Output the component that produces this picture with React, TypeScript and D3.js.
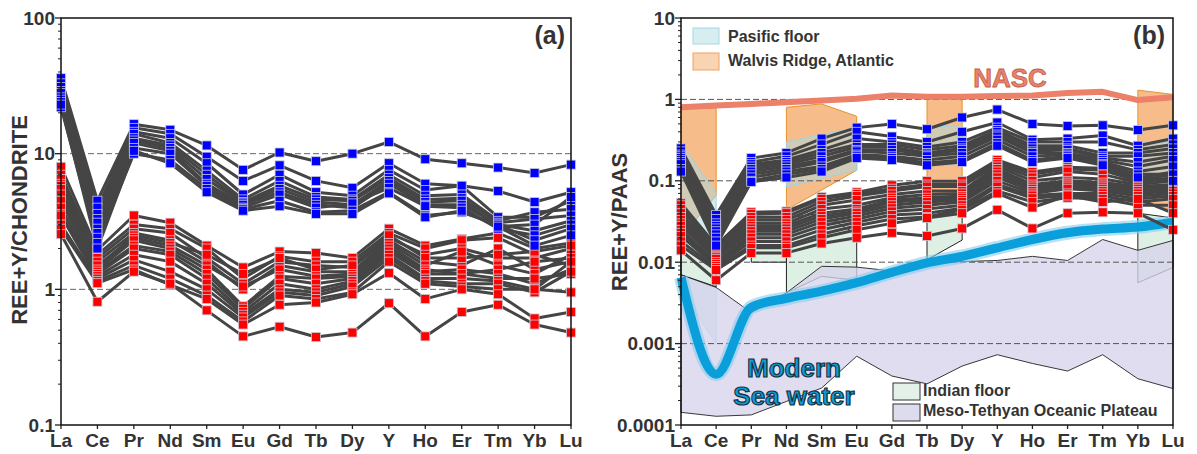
import React from "react";
import * as d3 from "d3";

const elements = ["La", "Ce", "Pr", "Nd", "Sm", "Eu", "Gd", "Tb", "Dy", "Y", "Ho", "Er", "Tm", "Yb", "Lu"];

// Panel (a): chondrite-normalised
const chondriteBlue: number[][] = [
  [36, 4.5, 16.5, 15, 11.5, 7.6, 10.2, 8.8, 10, 12.2, 9.1, 8.5, 7.9, 7.2, 8.3],
  [33, 4.0, 15.5, 14, 9.5, 6.3, 8.2, 6.3, 5.6, 8.5, 6.0, 5.8, 5.3, 4.4, 5.2],
  [31, 3.6, 14.5, 13, 8.5, 5.0, 7.0, 5.2, 4.9, 7.6, 5.4, 5.8, 3.4, 3.4, 4.5],
  [29, 3.3, 14, 12, 7.5, 4.6, 6.3, 4.8, 4.6, 7.0, 4.9, 5.0, 3.2, 3.7, 3.9],
  [28, 3.1, 13, 11.5, 7.0, 4.4, 5.8, 4.6, 4.5, 6.6, 4.6, 4.7, 3.1, 3.3, 3.5],
  [26, 2.8, 12.5, 11, 6.5, 4.3, 5.5, 4.4, 4.2, 6.3, 4.4, 4.5, 2.9, 3.0, 4.8],
  [25, 2.6, 12, 10.5, 6.0, 4.2, 5.2, 4.2, 4.0, 6.0, 4.2, 4.2, 3.0, 2.7, 3.2],
  [24, 2.4, 11, 10, 5.8, 4.0, 5.0, 4.0, 4.3, 5.6, 4.1, 4.0, 2.8, 2.5, 3.0],
  [22, 2.2, 10, 9, 5.5, 3.9, 4.5, 3.7, 3.8, 5.2, 3.5, 3.7, 3.0, 2.3, 2.8],
  [23, 2.0, 10.5, 8.5, 5.2, 3.8, 4.1, 3.6, 3.6, 5.1, 3.4, 3.8, 2.9, 2.1, 2.5],
];
const chondriteRed: number[][] = [
  [8.0, 1.95, 3.5, 3.1, 2.1, 1.45, 1.9, 1.85, 1.7, 2.8, 2.1, 2.35, 2.6, 2.0, 2.2],
  [7.0, 1.8, 3.0, 2.8, 2.0, 1.2, 1.75, 1.6, 1.6, 2.6, 2.0, 2.3, 2.4, 1.8, 1.5],
  [6.5, 1.7, 2.8, 2.6, 1.7, 1.1, 1.6, 1.5, 1.45, 2.4, 1.8, 2.0, 1.7, 1.7, 2.0],
  [6.0, 1.6, 2.6, 2.3, 1.6, 1.0, 1.5, 1.35, 1.35, 2.3, 1.6, 1.5, 2.0, 1.4, 1.6],
  [5.8, 1.45, 2.5, 2.2, 1.8, 1.3, 1.7, 1.4, 1.5, 2.5, 1.7, 1.7, 1.8, 1.9, 2.1],
  [5.5, 1.5, 2.4, 2.1, 1.5, 1.05, 1.4, 1.25, 1.3, 2.2, 1.5, 1.9, 1.5, 1.3, 1.8],
  [5.0, 1.4, 2.3, 2.0, 1.4, 0.75, 1.25, 1.2, 1.25, 2.1, 1.4, 1.3, 1.4, 1.6, 1.7],
  [4.5, 1.35, 2.1, 1.9, 1.3, 0.72, 1.2, 1.1, 1.2, 2.0, 1.35, 1.4, 1.3, 1.1, 1.4],
  [4.0, 1.3, 2.0, 1.8, 1.2, 0.68, 1.1, 1.0, 1.15, 1.9, 1.3, 1.3, 1.2, 1.2, 1.3],
  [3.6, 1.25, 1.8, 1.6, 1.1, 0.65, 1.0, 0.95, 1.1, 1.8, 1.2, 1.2, 1.15, 1.0, 1.6],
  [3.5, 1.2, 1.65, 1.35, 1.0, 0.62, 0.95, 0.9, 1.05, 1.7, 1.15, 1.1, 1.1, 0.95, 1.35],
  [3.0, 1.15, 1.5, 1.2, 0.9, 0.58, 0.9, 0.85, 0.95, 1.6, 1.1, 1.05, 1.0, 1.0, 0.95],
  [2.8, 1.11, 1.4, 1.08, 0.85, 0.55, 0.77, 0.8, 0.92, 1.32, 0.85, 1.0, 0.92, 0.61, 0.68],
  [2.55, 0.81, 1.35, 1.1, 0.7, 0.45, 0.53, 0.445, 0.48, 0.79, 0.45, 0.68, 0.77, 0.55, 0.48],
];

// Panel (b): PAAS-normalised
const paasBlue: number[][] = [
  [0.25, 0.038, 0.19, 0.22, 0.33, 0.45, 0.5, 0.43, 0.6, 0.75, 0.5, 0.47, 0.48, 0.42, 0.48],
  [0.23, 0.034, 0.17, 0.2, 0.28, 0.4, 0.35, 0.3, 0.4, 0.52, 0.32, 0.33, 0.36, 0.27, 0.33],
  [0.21, 0.03, 0.16, 0.18, 0.24, 0.33, 0.3, 0.26, 0.3, 0.45, 0.3, 0.3, 0.3, 0.24, 0.28],
  [0.2, 0.028, 0.15, 0.17, 0.22, 0.28, 0.28, 0.24, 0.27, 0.42, 0.27, 0.27, 0.22, 0.22, 0.25],
  [0.19, 0.026, 0.14, 0.16, 0.2, 0.26, 0.26, 0.22, 0.25, 0.4, 0.25, 0.25, 0.2, 0.2, 0.22],
  [0.18, 0.024, 0.13, 0.15, 0.18, 0.24, 0.24, 0.21, 0.24, 0.37, 0.23, 0.24, 0.19, 0.17, 0.2],
  [0.17, 0.022, 0.12, 0.14, 0.17, 0.23, 0.22, 0.2, 0.22, 0.35, 0.22, 0.22, 0.18, 0.15, 0.18],
  [0.16, 0.02, 0.11, 0.13, 0.15, 0.21, 0.2, 0.18, 0.2, 0.32, 0.2, 0.21, 0.17, 0.13, 0.15],
  [0.14, 0.018, 0.1, 0.12, 0.14, 0.2, 0.19, 0.165, 0.18, 0.29, 0.18, 0.2, 0.16, 0.12, 0.12],
  [0.13, 0.016, 0.097, 0.11, 0.13, 0.19, 0.18, 0.155, 0.17, 0.27, 0.17, 0.19, 0.155, 0.11, 0.1],
];
const paasRed: number[][] = [
  [0.053, 0.016, 0.041, 0.042, 0.063, 0.072, 0.088, 0.099, 0.099, 0.18, 0.128, 0.147, 0.143, 0.108, 0.128],
  [0.05, 0.0155, 0.039, 0.04, 0.06, 0.069, 0.08, 0.09, 0.09, 0.17, 0.12, 0.14, 0.135, 0.1, 0.12],
  [0.045, 0.015, 0.036, 0.036, 0.055, 0.065, 0.075, 0.085, 0.085, 0.16, 0.11, 0.13, 0.12, 0.095, 0.11],
  [0.04, 0.014, 0.033, 0.033, 0.05, 0.058, 0.068, 0.075, 0.075, 0.15, 0.1, 0.11, 0.105, 0.09, 0.1],
  [0.036, 0.013, 0.03, 0.03, 0.045, 0.05, 0.062, 0.068, 0.07, 0.14, 0.09, 0.1, 0.095, 0.085, 0.09],
  [0.033, 0.012, 0.028, 0.028, 0.04, 0.045, 0.058, 0.062, 0.065, 0.13, 0.085, 0.095, 0.09, 0.08, 0.085],
  [0.03, 0.0115, 0.026, 0.026, 0.037, 0.042, 0.055, 0.058, 0.062, 0.12, 0.08, 0.09, 0.085, 0.075, 0.08],
  [0.028, 0.011, 0.024, 0.024, 0.034, 0.04, 0.05, 0.055, 0.058, 0.11, 0.075, 0.085, 0.08, 0.07, 0.075],
  [0.025, 0.01, 0.022, 0.022, 0.031, 0.037, 0.046, 0.05, 0.055, 0.1, 0.07, 0.08, 0.075, 0.065, 0.07],
  [0.023, 0.0095, 0.02, 0.02, 0.028, 0.034, 0.042, 0.045, 0.05, 0.09, 0.066, 0.07, 0.07, 0.06, 0.065],
  [0.021, 0.009, 0.018, 0.018, 0.025, 0.031, 0.038, 0.04, 0.046, 0.085, 0.061, 0.066, 0.065, 0.055, 0.06],
  [0.018, 0.0085, 0.016, 0.016, 0.022, 0.028, 0.034, 0.036, 0.044, 0.075, 0.055, 0.062, 0.06, 0.05, 0.05],
  [0.016, 0.008, 0.015, 0.015, 0.02, 0.025, 0.03, 0.035, 0.04, 0.07, 0.047, 0.066, 0.055, 0.06, 0.04],
  [0.014, 0.006, 0.013, 0.013, 0.017, 0.02, 0.023, 0.021, 0.026, 0.044, 0.026, 0.04, 0.041, 0.04, 0.025],
];

const nascValues = [0.8, 0.84, 0.88, 0.92, 0.97, 1.02, 1.12, 1.08, 1.08, 1.1, 1.12, 1.2, 1.24, 0.98, 1.06];
const seawaterValues = [0.0065, 0.00042, 0.0028, 0.0036, 0.0044, 0.0056, 0.0075, 0.0098, 0.0118, 0.015, 0.019, 0.023, 0.0255, 0.027, 0.031];

const mesoUpper = [0.007, 0.0049, 0.0024, 0.0042, 0.0089, 0.0087, 0.0078, 0.0095, 0.0102, 0.0105, 0.0118, 0.0105, 0.019, 0.014, 0.0185];
const mesoLower = [0.000143, 0.000128, 0.000133, 0.000195, 0.000284, 0.0007, 0.0004, 0.00032, 0.00053, 0.00073, 0.00057, 0.00046, 0.00073, 0.00037, 0.00028];

type Seg = { els: string[]; top: number[]; bottom: number[] };
const walvisSegments: Seg[] = [
  { els: ["La", "Ce"], top: [0.78, 0.78], bottom: [0.02, 0.066] },
  { els: ["Nd", "Sm", "Eu"], top: [0.8, 0.88, 0.62], bottom: [0.044, 0.077, 0.135] },
  { els: ["Tb", "Dy"], top: [1.15, 0.98], bottom: [0.045, 0.07] },
  { els: ["Yb", "Lu"], top: [1.3, 1.15], bottom: [0.055, 0.044] },
];
const pacificSegments: Seg[] = [
  { els: ["La", "Ce"], top: [0.29, 0.07], bottom: [0.0045, 0.001] },
  { els: ["Nd", "Sm", "Eu"], top: [0.3, 0.37, 0.45], bottom: [0.084, 0.107, 0.135] },
  { els: ["Tb", "Dy"], top: [0.45, 0.48], bottom: [0.15, 0.165] },
  { els: ["Yb", "Lu"], top: [0.3, 0.3], bottom: [0.1, 0.12] },
];
const indianSegments: Seg[] = [
  { els: ["La", "Ce"], top: [0.04, 0.012], bottom: [0.007, 0.005] },
  { els: ["Pr", "Nd"], top: [0.035, 0.035], bottom: [0.01, 0.01] },
  { els: ["Nd", "Sm", "Eu"], top: [0.035, 0.04, 0.022], bottom: [0.0042, 0.0067, 0.006] },
  { els: ["Tb", "Dy"], top: [0.04, 0.045], bottom: [0.0107, 0.0187] },
  { els: ["Yb", "Lu"], top: [0.04, 0.035], bottom: [0.0056, 0.0086] },
];

const ticksA = [0.1, 1, 10, 100];
const tickLabelsA = ["0.1", "1", "10", "100"];
const ticksB = [0.0001, 0.001, 0.01, 0.1, 1, 10];
const tickLabelsB = ["0.0001", "0.001", "0.01", "0.1", "1", "10"];

const FONT = "Arial, 'Liberation Sans', Helvetica, sans-serif";
const TXT = "#333";

type Box = { left: number; right: number; top: number; bottom: number };

function minorTicks(domain: [number, number]) {
  const out: number[] = [];
  for (let e = Math.log10(domain[0]); e < Math.log10(domain[1]) - 0.001; e++) {
    for (let k = 2; k <= 9; k++) out.push(k * Math.pow(10, e));
  }
  return out;
}

function Frame({ box, x, y, ticks, labels, domain }: { box: Box; x: d3.ScalePoint<string>; y: d3.ScaleLogarithmic<number, number>; ticks: number[]; labels: string[]; domain: [number, number] }) {
  return (
    <g>
      {minorTicks(domain).map((v, i) => (
        <line key={"m" + i} x1={box.left - 3} x2={box.left} y1={y(v)} y2={y(v)} stroke="#222" strokeWidth={1} />
      ))}
      {ticks.map((v, i) => (
        <g key={"t" + i}>
          <line x1={box.left - 6} x2={box.left} y1={y(v)} y2={y(v)} stroke="#222" strokeWidth={1.3} />
          <text x={box.left - 6} y={y(v) + 6.5} textAnchor="end" fontFamily={FONT} fontWeight="bold" fontSize={19} fill={TXT}>
            {labels[i]}
          </text>
        </g>
      ))}
      {elements.map((e) => (
        <g key={e}>
          <line x1={x(e)} x2={x(e)} y1={box.bottom} y2={box.bottom + 4} stroke="#222" strokeWidth={1.3} />
          <text x={x(e)} y={box.bottom + 22} textAnchor="middle" fontFamily={FONT} fontWeight="bold" fontSize={19} fill={TXT}>
            {e}
          </text>
        </g>
      ))}
      <path d={`M${box.left},${box.top}H${box.right}V${box.bottom}H${box.left}Z`} fill="none" stroke="#111" strokeWidth={1.5} />
    </g>
  );
}

function Markers({ data, x, y, color }: { data: number[][]; x: d3.ScalePoint<string>; y: d3.ScaleLogarithmic<number, number>; color: string }) {
  const s = 9;
  return (
    <g>
      {data.map((row, si) =>
        row.map((v, i) => (
          <rect key={si + "-" + i} x={x(elements[i])! - s / 2} y={y(v) - s / 2} width={s} height={s} fill={color} stroke="#c9c9d6" strokeWidth={0.8} />
        ))
      )}
    </g>
  );
}

export default function App() {
  const boxA: Box = { left: 61, right: 571, top: 18, bottom: 425 };
  const boxB: Box = { left: 681, right: 1173, top: 18, bottom: 425 };
  const domA: [number, number] = [0.1, 100];
  const domB: [number, number] = [0.0001, 10];
  const xA = d3.scalePoint<string>().domain(elements).range([boxA.left, boxA.right]);
  const yA = d3.scaleLog().domain(domA).range([boxA.bottom, boxA.top]);
  const xB = d3.scalePoint<string>().domain(elements).range([boxB.left, boxB.right]);
  const yB = d3.scaleLog().domain(domB).range([boxB.bottom, boxB.top]);

  const lineA = d3.line<number>().x((_, i) => xA(elements[i])!).y((v) => yA(v));
  const lineB = d3.line<number>().x((_, i) => xB(elements[i])!).y((v) => yB(v));
  const smoothB = d3.line<number>().x((_, i) => xB(elements[i])!).y((v) => yB(v)).curve(d3.curveMonotoneX);

  const segPath = (s: Seg) => {
    const pts: [number, number][] = s.els.map((e, i) => [xB(e)!, yB(s.top[i])]);
    const bot: [number, number][] = s.els.map((e, i) => [xB(e)!, yB(s.bottom[i])] as [number, number]).reverse();
    return "M" + pts.concat(bot).map((p) => p.join(",")).join("L") + "Z";
  };
  const mesoPath =
    "M" +
    elements.map((e, i) => `${xB(e)},${yB(mesoUpper[i])}`).join("L") +
    "L" +
    elements.map((e, i) => `${xB(e)},${yB(mesoLower[i])}`).reverse().join("L") +
    "Z";

  const gridA = [1, 10];
  const gridB = [0.001, 0.01, 0.1, 1];

  return (
    <svg width={1197} height={454} style={{ position: "absolute", left: 0, top: 0, background: "#fff" }}>
      <rect x={0} y={0} width={1197} height={454} fill="#fff" />
      {/* ---------- Panel A ---------- */}
      {gridA.map((v) => (
        <line key={v} x1={boxA.left} x2={boxA.right} y1={yA(v)} y2={yA(v)} stroke="#666" strokeWidth={1} strokeDasharray="6,3" />
      ))}
      {chondriteRed.concat(chondriteBlue).map((row, i) => (
        <path key={"la" + i} d={lineA(row)!} fill="none" stroke="#454545" strokeWidth={3} strokeLinejoin="round" />
      ))}
      <Markers data={chondriteRed} x={xA} y={yA} color="#ff0000" />
      <Markers data={chondriteBlue} x={xA} y={yA} color="#0000ff" />
      <Frame box={boxA} x={xA} y={yA} ticks={ticksA} labels={tickLabelsA} domain={domA} />
      <text transform={`translate(27,220) rotate(-90)`} textAnchor="middle" fontFamily={FONT} fontWeight="bold" fontSize={22} fill={TXT}>
        REE+Y/CHONDRITE
      </text>
      <text x={565} y={44} textAnchor="end" fontFamily={FONT} fontWeight="bold" fontSize={25} fill={TXT}>
        (a)
      </text>

      {/* ---------- Panel B ---------- */}
      {walvisSegments.map((s, i) => (
        <path key={"w" + i} d={segPath(s)} fill="#f6bd8a" stroke="#e8902e" strokeWidth={1} />
      ))}
      {pacificSegments.map((s, i) => (
        <path key={"p" + i} d={segPath(s)} fill="rgba(170,218,226,0.5)" stroke="#9fd3e6" strokeWidth={1} />
      ))}
      {indianSegments.map((s, i) => (
        <path key={"i" + i} d={segPath(s)} fill="#deefe4" stroke="#222" strokeWidth={1} />
      ))}
      <path d={mesoPath} fill="rgba(214,212,234,0.78)" stroke="#222" strokeWidth={0.9} />
      {gridB.map((v) => (
        <line key={v} x1={boxB.left} x2={boxB.right} y1={yB(v)} y2={yB(v)} stroke="#555" strokeWidth={1} strokeDasharray="6,3" />
      ))}
      <path d={lineB(nascValues)!} fill="none" stroke="#ec8068" strokeWidth={6} strokeLinejoin="round" />
      <path d={smoothB(seawaterValues)!} fill="none" stroke="#86cdec" strokeWidth={14} strokeLinejoin="round" opacity={0.6} />
      <path d={smoothB(seawaterValues)!} fill="none" stroke="#0a9fdb" strokeWidth={9} strokeLinejoin="round" />
      {paasRed.concat(paasBlue).map((row, i) => (
        <path key={"lb" + i} d={lineB(row)!} fill="none" stroke="#454545" strokeWidth={3} strokeLinejoin="round" />
      ))}
      <Markers data={paasRed} x={xB} y={yB} color="#ff0000" />
      <Markers data={paasBlue} x={xB} y={yB} color="#0000ff" />
      <Frame box={boxB} x={xB} y={yB} ticks={ticksB} labels={tickLabelsB} domain={domB} />
      <text transform={`translate(627,222) rotate(-90)`} textAnchor="middle" fontFamily={FONT} fontWeight="bold" fontSize={22} fill={TXT}>
        REE+Y/PAAS
      </text>
      <text x={1165} y={44} textAnchor="end" fontFamily={FONT} fontWeight="bold" fontSize={25} fill={TXT}>
        (b)
      </text>

      {/* labels */}
      <text x={1010} y={87} textAnchor="middle" fontFamily={FONT} fontWeight="bold" fontSize={26} fill="#ea826a" stroke="#c0604c" strokeWidth={0.8}>
        NASC
      </text>
      <text x={794} y={377} textAnchor="middle" fontFamily={FONT} fontWeight="bold" fontSize={26} fill="#0a9fdb" stroke="#17303f" strokeWidth={1.2}>
        Modern
      </text>
      <text x={794} y={405} textAnchor="middle" fontFamily={FONT} fontWeight="bold" fontSize={26} fill="#0a9fdb" stroke="#17303f" strokeWidth={1.2}>
        Sea water
      </text>

      {/* legends */}
      <rect x={693} y={28} width={26} height={16} fill="#d7eef1" stroke="#a6d6e4" strokeWidth={1} />
      <text x={728} y={42} fontFamily={FONT} fontWeight="bold" fontSize={16} fill={TXT}>
        Pasific floor
      </text>
      <rect x={693} y={53} width={26} height={17} fill="#f9d4b2" stroke="#eea264" strokeWidth={1} />
      <text x={728} y={66} fontFamily={FONT} fontWeight="bold" fontSize={16} fill={TXT}>
        Walvis Ridge, Atlantic
      </text>
      <rect x={893} y={383} width={27} height={17} fill="#e3f1e8" stroke="#333" strokeWidth={1} />
      <text x={923} y={396} fontFamily={FONT} fontWeight="bold" fontSize={16} fill={TXT}>
        Indian floor
      </text>
      <rect x={893} y={404} width={27} height={17} fill="#dcdcee" stroke="#333" strokeWidth={1} />
      <text x={923} y={416} fontFamily={FONT} fontWeight="bold" fontSize={16} fill={TXT}>
        Meso-Tethyan Oceanic Plateau
      </text>
    </svg>
  );
}
